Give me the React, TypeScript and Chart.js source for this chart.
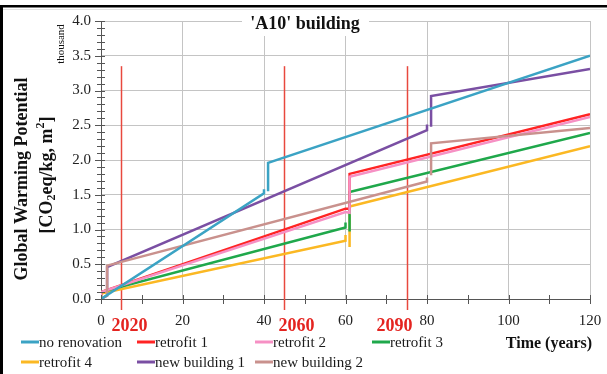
import React, { useEffect, useRef } from "react";
import { Chart, registerables } from "chart.js";

Chart.register(...registerables);

// ---- Data (years since construction, GWP in thousand CO2eq/kg, m2) ----
const seriesLabels = [
  "no renovation",
  "retrofit 1",
  "retrofit 2",
  "retrofit 3",
  "retrofit 4",
  "new building 1",
  "new building 2",
];
const seriesColors = [
  "#3ba3c4",
  "#ff2424",
  "#f690c4",
  "#1fa84b",
  "#fbb823",
  "#7a4fa3",
  "#c9918d",
];
// drawing order (lower = on top)
const seriesOrder = [0, 3, 2, 4, 5, 6, 1];

const noRenovationX = [0, 40, 40, 40.5, 41, 41, 120];
const noRenovationY = [0, 1.52, 1.58, null, 1.55, 1.96, 3.5];

const retrofit1X = [0, 0, 60, 61, 61, 120];
const retrofit1Y = [0, 0.1, 1.3, 1.3, 1.8, 2.66];

const retrofit2X = [0, 0, 60, 61, 61, 120];
const retrofit2Y = [0, 0.1, 1.25, 1.24, 1.76, 2.62];

const retrofit3X = [0, 0, 60, 60, 60.5, 61, 61, 120];
const retrofit3Y = [0, 0.1, 1.03, 1.1, null, 0.97, 1.54, 2.39];

const retrofit4X = [0, 0, 60, 60, 60.5, 61, 61, 120];
const retrofit4Y = [0, 0.08, 0.84, 0.92, null, 0.75, 1.33, 2.2];

const newBuilding1X = [0, 1.5, 1.5, 80, 80, 80.5, 81, 81, 120];
const newBuilding1Y = [0, 0.05, 0.46, 2.43, 2.51, null, 2.48, 2.92, 3.31];

const newBuilding2X = [0, 1.5, 1.5, 80, 80, 80.5, 81, 81, 120];
const newBuilding2Y = [0, 0.05, 0.48, 1.69, 1.75, null, 1.78, 2.24, 2.46];

const seriesX = [noRenovationX, retrofit1X, retrofit2X, retrofit3X, retrofit4X, newBuilding1X, newBuilding2X];
const seriesY = [noRenovationY, retrofit1Y, retrofit2Y, retrofit3Y, retrofit4Y, newBuilding1Y, newBuilding2Y];

const eventYears = [5, 45, 75];
const eventLabels = ["2020", "2060", "2090"];
const eventLabelYears = [7, 48, 72];
const eventTop = 3.35;

const xMin = 0;
const xMax = 120;
const xStep = 20;
const yMin = 0;
const yMax = 4;
const yStep = 0.5;

const titleText = "'A10' building";
const xTitle = "Time (years)";
const yTitle1 = "Global Warming Potential";
const yUnit = "thousand";

const SERIF = "'Liberation Serif', 'Times New Roman', serif";

const decorPlugin = {
  id: "decor",
  beforeDraw(chart: any) {
    const ctx = chart.ctx;
    ctx.save();
    ctx.fillStyle = "#ffffff";
    ctx.fillRect(0, 0, chart.width, chart.height);
    ctx.restore();
  },
  beforeDatasetsDraw(chart: any) {
    const ctx = chart.ctx;
    const xs = chart.scales.x;
    const ys = chart.scales.y;
    const ca = chart.chartArea;
    ctx.save();
    ctx.strokeStyle = "#e8483e";
    ctx.lineWidth = 1.5;
    eventYears.forEach((yr) => {
      const px = Math.round(xs.getPixelForValue(yr)) + 0.5;
      ctx.beginPath();
      ctx.moveTo(px, ys.getPixelForValue(eventTop));
      ctx.lineTo(px, ca.bottom + 11);
      ctx.stroke();
    });
    ctx.restore();
  },
  afterDraw(chart: any) {
    const ctx = chart.ctx;
    const xs = chart.scales.x;
    const ys = chart.scales.y;
    const ca = chart.chartArea;
    ctx.save();

    // frame
    ctx.fillStyle = "#000";
    ctx.fillRect(0, 5, chart.width, 2.5);
    ctx.fillRect(0, 5, 3, chart.height - 5);
    ctx.fillStyle = "#e2e2e2";
    ctx.fillRect(3, 9, chart.width - 3, 1);

    // y minor/major ticks
    ctx.strokeStyle = "#555";
    ctx.lineWidth = 1;
    for (let i = 0; i <= Math.round((yMax - yMin) * 10); i++) {
      const v = yMin + i / 10;
      const py = Math.round(ys.getPixelForValue(v)) + 0.5;
      const major = i % 5 === 0;
      ctx.beginPath();
      ctx.moveTo(ca.left - (major ? 6 : 4), py);
      ctx.lineTo(ca.left + 4, py);
      ctx.stroke();
    }
    // x ticks
    for (let t = xMin; t <= xMax; t += 10) {
      const px = Math.round(xs.getPixelForValue(t)) + 0.5;
      ctx.beginPath();
      ctx.moveTo(px, ca.bottom - 4);
      ctx.lineTo(px, ca.bottom + 5);
      ctx.stroke();
    }

    // title with white backing
    ctx.fillStyle = "#fff";
    ctx.fillRect(242, 11, 127, 25);
    ctx.fillStyle = "#111";
    ctx.font = `bold 18px ${SERIF}`;
    ctx.textAlign = "center";
    ctx.textBaseline = "middle";
    ctx.fillText(titleText, 305, 24);

    // event labels
    ctx.fillStyle = "#e42420";
    ctx.font = `bold 18px ${SERIF}`;
    eventLabels.forEach((lab, i) => {
      ctx.fillText(lab, xs.getPixelForValue(eventLabelYears[i]), 326);
    });

    // x title
    ctx.fillStyle = "#111";
    ctx.font = `bold 16px ${SERIF}`;
    ctx.fillText(xTitle, 549, 344);

    // y title line 1
    ctx.save();
    ctx.translate(22, 179);
    ctx.rotate(-Math.PI / 2);
    ctx.font = `bold 18px ${SERIF}`;
    ctx.textAlign = "center";
    ctx.fillText(yTitle1, 0, 0);
    ctx.restore();

    // y title line 2 with sub/superscripts
    ctx.save();
    ctx.translate(47, 175);
    ctx.rotate(-Math.PI / 2);
    ctx.textAlign = "left";
    ctx.textBaseline = "middle";
    const pieces = [
      { t: "[CO", s: 18, dy: 0 },
      { t: "2", s: 12, dy: 5 },
      { t: "eq/kg, m", s: 18, dy: 0 },
      { t: "2", s: 12, dy: -6 },
      { t: "]", s: 18, dy: 0 },
    ];
    let total = 0;
    pieces.forEach((p) => {
      ctx.font = `bold ${p.s}px ${SERIF}`;
      total += ctx.measureText(p.t).width;
    });
    let cx = -total / 2;
    pieces.forEach((p) => {
      ctx.font = `bold ${p.s}px ${SERIF}`;
      ctx.fillText(p.t, cx, p.dy);
      cx += ctx.measureText(p.t).width;
    });
    ctx.restore();

    // unit
    ctx.save();
    ctx.translate(61, 44);
    ctx.rotate(-Math.PI / 2);
    ctx.font = `11px ${SERIF}`;
    ctx.textAlign = "center";
    ctx.fillText(yUnit, 0, 0);
    ctx.restore();

    // legend
    const colX = [21, 137, 255, 372];
    const rowY = [342, 362];
    ctx.font = `15px ${SERIF}`;
    ctx.textAlign = "left";
    ctx.textBaseline = "middle";
    seriesLabels.forEach((lab, i) => {
      const col = i < 4 ? i : i - 4;
      const row = i < 4 ? 0 : 1;
      const lx = colX[col];
      const ly = rowY[row];
      ctx.strokeStyle = seriesColors[i];
      ctx.lineWidth = 3;
      ctx.beginPath();
      ctx.moveTo(lx, ly);
      ctx.lineTo(lx + 18, ly);
      ctx.stroke();
      ctx.fillStyle = "#1a1a1a";
      ctx.fillText(lab, lx + 18, ly + 1);
    });

    ctx.restore();
  },
};

export default function App() {
  const canvasRef = useRef<HTMLCanvasElement | null>(null);

  useEffect(() => {
    const canvas = canvasRef.current;
    if (!canvas) return;
    const datasets = seriesLabels.map((label, i) => ({
      label,
      data: seriesX[i].map((x, j) => ({ x, y: seriesY[i][j] })),
      borderColor: seriesColors[i],
      backgroundColor: seriesColors[i],
      borderWidth: 2.5,
      pointRadius: 0,
      fill: false,
      tension: 0,
      spanGaps: false,
      order: seriesOrder[i],
    }));
    const chart = new Chart(canvas, {
      type: "line",
      data: { datasets } as any,
      options: {
        animation: false,
        responsive: true,
        maintainAspectRatio: false,
        layout: { padding: { left: 0, top: 21, right: 17, bottom: 0 } },
        plugins: {
          legend: { display: false },
          tooltip: { enabled: false },
          title: { display: false },
        },
        scales: {
          x: {
            type: "linear",
            min: xMin,
            max: xMax,
            ticks: {
              stepSize: xStep,
              color: "#222",
              font: { family: SERIF, size: 15 },
              padding: 13,
              maxRotation: 0,
            },
            grid: {
              color: (c: any) => (c.tick && c.tick.value === xMin ? "rgba(0,0,0,0)" : "#c4c4c4"),
              drawTicks: false,
              lineWidth: 1,
            },
            border: { color: "#555", width: 1 },
            afterFit: (s: any) => {
              s.height = 75;
              s.paddingLeft = 0;
              s.paddingRight = 0;
            },
          },
          y: {
            type: "linear",
            min: yMin,
            max: yMax,
            ticks: {
              stepSize: yStep,
              color: "#222",
              font: { family: SERIF, size: 15 },
              padding: 10,
              callback: (v: any) => Number(v).toFixed(1),
            },
            grid: {
              color: (c: any) => (c.tick && c.tick.value === yMin ? "rgba(0,0,0,0)" : "#c4c4c4"),
              drawTicks: false,
              lineWidth: 1,
            },
            border: { color: "#555", width: 1 },
            afterFit: (s: any) => {
              s.width = 101;
              s.paddingTop = 0;
              s.paddingBottom = 0;
            },
          },
        },
      },
      plugins: [decorPlugin],
    });
    return () => chart.destroy();
  }, []);

  return (
    <div style={{ position: "fixed", left: 0, top: 0, width: 607, height: 374, background: "#fff" }}>
      <canvas ref={canvasRef} />
    </div>
  );
}
